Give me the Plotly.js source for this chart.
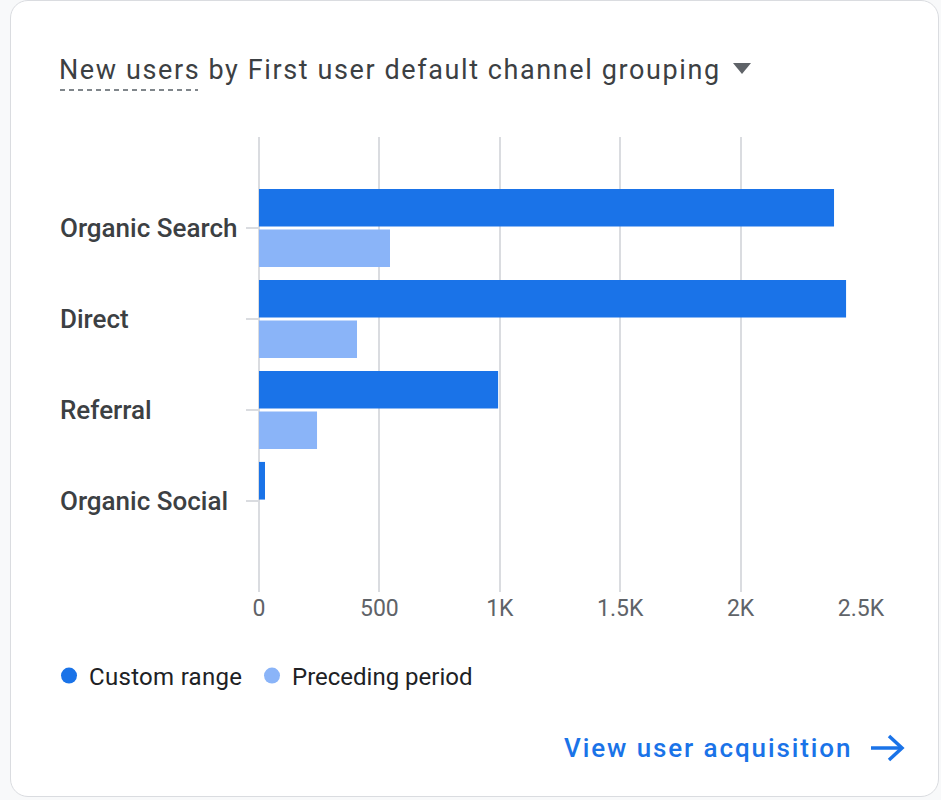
<!DOCTYPE html>
<html>
<head>
<meta charset="utf-8">
<script src="https://cdn.plot.ly/plotly-3.0.1.min.js"></script>
<style>
  html, body { margin: 0; padding: 0; width: 941px; height: 800px; background: #f8f9fa; overflow: hidden; }
  #card { position: absolute; left: 10px; top: 0px; width: 927px; height: 795px; background: #ffffff;
          border: 1.5px solid #dadce0; border-radius: 18px; }
  #chart { position: absolute; left: 0; top: 0; width: 941px; height: 800px; }
  #chart .gtitle { letter-spacing: 1.6px; }
  #chart g.annotation[data-index="4"] text { letter-spacing: 1.9px; }
  #chart .legendtext { letter-spacing: 0.3px; }
</style>
</head>
<body>
<div id="card"></div>
<div id="chart"></div>
<script>
// ---- data ----
const categories = ["Organic Search", "Direct", "Referral", "Organic Social"];
const customRange = [2388, 2438, 993, 25];
const precedingPeriod = [544, 407, 241, 0];
const tickValues = [0, 500, 1000, 1500, 2000, 2500];
const tickLabels = ["0", "500", "1K", "1.5K", "2K", "2.5K"];
const seriesNames = ["Custom range", "Preceding period"];
const titleText = "New users by First user default channel grouping";
const linkText = "View user acquisition";

// ---- layout geometry ----
const W = 941, H = 800;
const M = { l: 259, r: 80, t: 137, b: 208 };
const pw = W - M.l - M.r, ph = H - M.t - M.b;
const px = x => (x - M.l) / pw;          // pixel x -> paper x
const py = y => (H - M.b - y) / ph;      // pixel y -> paper y

const blue = "#1a73e8", lightBlue = "#8ab4f8";

const traces = [
  { type: "bar", orientation: "h", name: seriesNames[0], y: categories, x: customRange,
    marker: { color: blue }, showlegend: false, hoverinfo: "x+name" },
  { type: "bar", orientation: "h", name: seriesNames[1], y: categories, x: precedingPeriod,
    marker: { color: lightBlue }, showlegend: false, hoverinfo: "x+name" },
  { type: "scatter", mode: "markers", name: seriesNames[0], x: [null], y: [null],
    marker: { color: blue, size: 20 }, hoverinfo: "skip", legend: "legend" },
  { type: "scatter", mode: "markers", name: seriesNames[1], x: [null], y: [null],
    marker: { color: lightBlue, size: 20 }, hoverinfo: "skip", legend: "legend2" }
];

const catAnnotations = categories.map(c => ({
  xref: "paper", yref: "y", x: px(58), y: c, xanchor: "left", yanchor: "middle",
  text: c, showarrow: false,
  font: { family: "Roboto, sans-serif", size: 26, weight: 500, color: "#3c4043" }
}));

const legendFont = { family: "Roboto, sans-serif", size: 24, color: "#202124" };

const layout = {
  width: W, height: H,
  margin: M,
  paper_bgcolor: "rgba(0,0,0,0)",
  plot_bgcolor: "rgba(0,0,0,0)",
  barmode: "group",
  bargap: 0.11,
  bargroupgap: 0.07,
  font: { family: "Roboto, sans-serif" },
  title: {
    text: titleText, xref: "container", yref: "container", x: 59 / W, xanchor: "left",
    y: 1 - 70 / H, yanchor: "middle",
    font: { family: "Roboto, sans-serif", size: 27, color: "#3c4043" }
  },
  xaxis: {
    range: [0, 2500], tickvals: tickValues, ticktext: tickLabels,
    showgrid: true, gridcolor: "#dadce0", gridwidth: 2,
    zeroline: true, zerolinecolor: "#dadce0", zerolinewidth: 2, showline: false,
    tickfont: { family: "Roboto, sans-serif", size: 23, color: "#5f6368" },
    ticks: "", fixedrange: true
  },
  yaxis: {
    type: "category", categoryorder: "array", categoryarray: categories,
    range: [4, -1], showgrid: false, zeroline: false, showline: false,
    showticklabels: false, ticks: "outside", ticklen: 12, tickwidth: 2, tickcolor: "#dadce0",
    fixedrange: true
  },
  showlegend: true,
  legend: {
    orientation: "h", x: px(49), xanchor: "left", y: py(676), yanchor: "middle",
    font: legendFont, bgcolor: "rgba(0,0,0,0)", itemclick: false, itemdoubleclick: false
  },
  legend2: {
    orientation: "h", x: px(252), xanchor: "left", y: py(676), yanchor: "middle",
    font: legendFont, bgcolor: "rgba(0,0,0,0)", itemclick: false, itemdoubleclick: false
  },
  annotations: catAnnotations.concat([
    { xref: "paper", yref: "paper", x: px(582), y: py(748), xanchor: "left", yanchor: "middle",
      text: linkText, showarrow: false,
      font: { family: "Roboto, sans-serif", size: 26, weight: 500, color: blue } }
  ]),
  shapes: [
    // dashed underline under "New users"
    { type: "line", xref: "paper", yref: "paper", x0: px(60), x1: px(198), y0: py(90), y1: py(90),
      line: { color: "#80868b", width: 2, dash: "5px,4px" } },
    // dropdown triangle
    { type: "path", xref: "paper", yref: "paper",
      path: `M ${px(733)} ${py(63)} L ${px(751)} ${py(63)} L ${px(742)} ${py(74)} Z`,
      fillcolor: "#5f6368", line: { width: 0 } },
    // arrow
    { type: "line", xref: "paper", yref: "paper", x0: px(871), x1: px(901), y0: py(748), y1: py(748),
      line: { color: blue, width: 3.5 } },
    { type: "path", xref: "paper", yref: "paper",
      path: `M ${px(889)} ${py(736)} L ${px(902)} ${py(748)} L ${px(889)} ${py(760)}`,
      line: { color: blue, width: 3.5 } }
  ]
};

Plotly.newPlot("chart", traces, layout, { displayModeBar: false });
</script>
</body>
</html>
